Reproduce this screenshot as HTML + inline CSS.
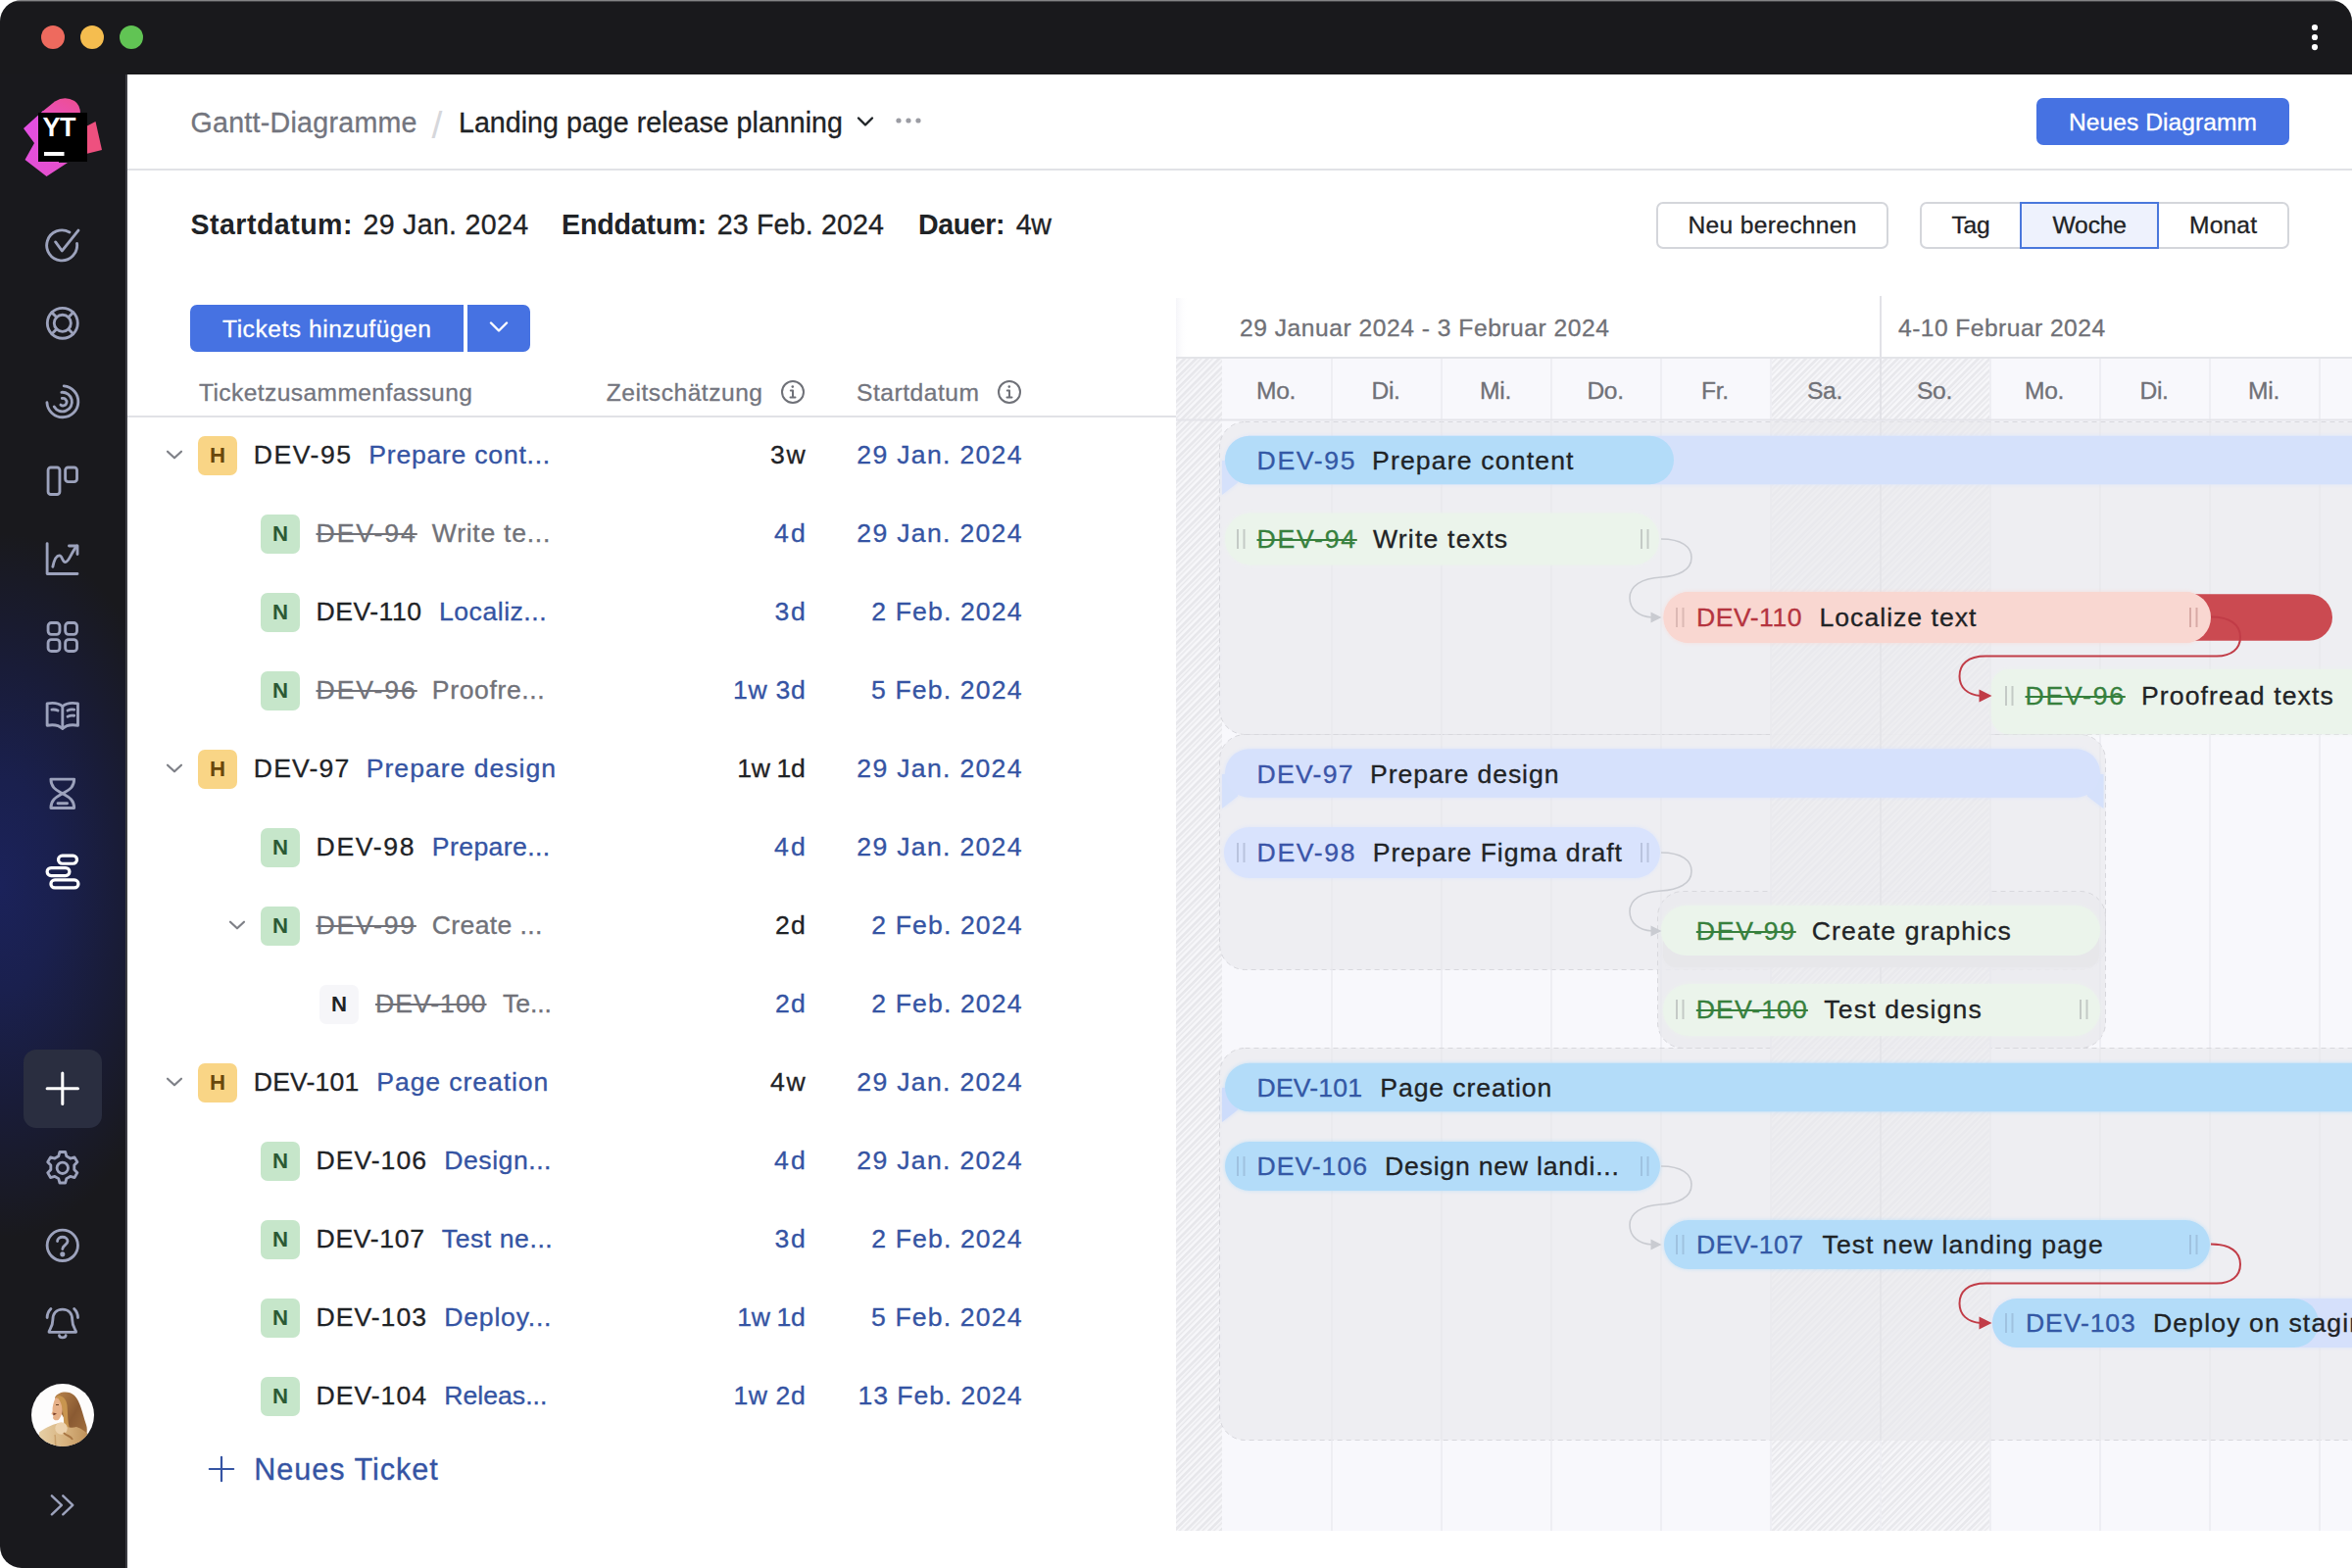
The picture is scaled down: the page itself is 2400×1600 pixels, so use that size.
<!DOCTYPE html>
<html lang="de"><head><meta charset="utf-8"><title>Gantt-Diagramme</title>
<style>
*{box-sizing:border-box;margin:0;padding:0}
html,body{width:2400px;height:1600px;overflow:hidden;background:#fff}
body{font-family:"Liberation Sans",sans-serif;position:relative;color:#1f2326}
.t{position:absolute;white-space:pre;display:block}
.abs{position:absolute}
#win{position:absolute;left:0;top:0;width:2400px;height:1600px;border-radius:22px 22px 0 22px;overflow:hidden;background:#fff}
#titlebar{position:absolute;left:0;top:0;width:2400px;height:76px;background:linear-gradient(to bottom,rgba(255,255,255,.62) 0,rgba(255,255,255,.25) 1.2px,rgba(255,255,255,0) 2.2px) #19191c}
.tl{position:absolute;top:26px;width:24px;height:24px;border-radius:50%}
#sidebar{position:absolute;left:0;top:76px;width:130px;height:1524px;background:radial-gradient(ellipse 195px 360px at 0px 828px,#1b225a 0%,#1a204e 30%,#191c38 62%,#19191d 100%);border-right:2px solid #3d3e44}
.ico{position:absolute;left:41.2px;width:45.6px;height:45.6px;margin-top:1.2px;fill:none;stroke:#9ca2bc;stroke-width:3;stroke-linecap:round;stroke-linejoin:round}
#main{position:absolute;left:130px;top:76px;width:2270px;height:1524px;background:#fff}
.hr{position:absolute;height:2px;background:#e1e2e6}
.btn{position:absolute;border-radius:7px;background:#4672e2}
.obtn{position:absolute;border:2px solid #d4d6db;border-radius:7px;background:#fff}
.badge{position:absolute;width:40px;height:40px;border-radius:7px}
.bH{background:#f9d586}
.bN{background:#c6e6ca}
.bG{background:#f6f6f9}
</style></head>
<body>
<div id="win">
<div id="titlebar"><i class="tl" style="left:42px;background:#ee6a5e"></i><i class="tl" style="left:82px;background:#f5bd4f"></i><i class="tl" style="left:122px;background:#61c454"></i><svg class="abs" style="left:2352px;top:20px" width="20" height="36"><circle cx="10" cy="8" r="3.1" fill="#fff"/><circle cx="10" cy="18" r="3.1" fill="#fff"/><circle cx="10" cy="28.1" r="3.1" fill="#fff"/></svg></div>
<nav id="sidebar"><svg class="abs" style="left:20px;top:20px" width="90" height="90" viewBox="20 96 90 90">
<defs><linearGradient id="lg1" x1="0" y1="0" x2="1" y2="1"><stop offset="0" stop-color="#e24fe6"/><stop offset="1" stop-color="#e550c8"/></linearGradient>
<linearGradient id="lg2" x1="0" y1="1" x2="1" y2="0"><stop offset="0" stop-color="#e84fc0"/><stop offset="1" stop-color="#ee4f8f"/></linearGradient></defs>
<path d="M24 131 L44 113 L60 120 L60 166 L69 166 L47.5 180 L25.5 163 L35 146 Z" fill="url(#lg1)"/>
<path d="M43 114 L56 103.5 Q66 97.5 76 103 Q82 107 82 116 L82 120 L44 120 Z" fill="url(#lg2)"/>
<path d="M86 130 L97.5 124 L104 153 L86 157.5 Z" fill="#ee507f"/>
<rect x="39" y="115" width="50" height="50" fill="#000"/>
<rect x="45" y="155" width="20.5" height="4" fill="#fff"/>
</svg><span class="t" style="left:43.5px;top:41.1px;font-size:27px;line-height:27px;color:#fff;font-weight:700;letter-spacing:-0.52px;">YT</span><svg class="ico" style="top:150px;" viewBox="0 0 48 48"><path d="M39.5 22.5 A16.3 16.3 0 1 1 31.5 10.5"/><path d="M16.5 21 L23.5 30.5 L41 8.5"/></svg><svg class="ico" style="top:230px;" viewBox="0 0 48 48"><circle cx="24" cy="24" r="16.3"/><circle cx="24" cy="24" r="9"/><path d="M12.5 12.5l5.2 5.2M35.5 12.5l-5.2 5.2M12.5 35.5l5.2-5.2M35.5 35.5l-5.2-5.2"/></svg><svg class="ico" style="top:310px;" viewBox="0 0 48 48"><path d="M25.5 7.3 A16.8 16.8 0 1 1 7.3 25"/><path d="M23 14 A10.3 10.3 0 1 1 15 29.5"/><path d="M23.5 20.5 A4 4 0 1 1 22 27.5"/></svg><svg class="ico" style="top:390px;" viewBox="0 0 48 48"><rect x="8.5" y="10.5" width="12.5" height="29" rx="3"/><rect x="27" y="10.5" width="12.5" height="15.5" rx="3"/></svg><svg class="ico" style="top:470px;" viewBox="0 0 48 48"><path d="M7.5 8 V40.5 H40"/><path d="M13.5 33 C15 26 17 21 20.5 21 C24 21 23.5 28 27 28 C31 28 33 18 39.5 10.5"/><path d="M31 10.5 H40 V19.5"/></svg><svg class="ico" style="top:550px;" viewBox="0 0 48 48"><rect x="8.5" y="9" width="12.5" height="12.5" rx="3.5"/><rect x="27" y="9" width="12.5" height="12.5" rx="3.5"/><rect x="8.5" y="27" width="12.5" height="12.5" rx="3.5"/><rect x="27" y="27" width="12.5" height="12.5" rx="3.5"/></svg><svg class="ico" style="top:630px;" viewBox="0 0 48 48"><path d="M24 14.5 C20 11 13 10.5 7.5 11.5 V35 C13 34 20 34.5 24 38.5 C28 34.5 35 34 40.5 35 V11.5 C35 10.5 28 11 24 14.5 Z"/><path d="M24 14.5 V38"/><path d="M12.5 18 c2.5 -.4 4.5 0 6.5 1M29.5 19 c2-1 4.5-1.5 7-1M29.5 25.5 c2-1 4.5-1.5 7-1"/></svg><svg class="ico" style="top:710px;" viewBox="0 0 48 48"><path d="M11.5 8.5 H36.5 C36.5 18 30 20.5 24 24 C18 27.5 11.5 30 11.5 39.5 H36.5 C36.5 30 30 27.5 24 24 C18 20.5 11.5 18 11.5 8.5 Z"/><path d="M19 34.5 H29"/></svg><svg class="ico" style="top:790px;stroke:#fff;stroke-width:3.4" viewBox="0 0 48 48"><rect x="19.5" y="6.5" width="20" height="8.5" rx="4.25"/><rect x="7.5" y="19.5" width="24" height="8.5" rx="4.25"/><rect x="11.5" y="32.5" width="29.5" height="8.5" rx="4.25"/></svg><div class="abs" style="left:24px;top:995px;width:80px;height:80px;border-radius:13px;background:#2a2e40"></div><svg class="ico" style="top:1011px;stroke:#fff;stroke-width:3.2" viewBox="0 0 48 48"><path d="M24 7.5 V40.5 M7.5 24 H40.5"/></svg><svg class="ico" style="top:1092px;" viewBox="0 0 48 48"><path d="M21 6.8 h6 l1.3 4.6 4 2.3 4.6-1.2 3 5.2 -3.3 3.4 v4.6 l3.3 3.4 -3 5.2 -4.6-1.2 -4 2.3 -1.3 4.6 h-6 l-1.3-4.6 -4-2.3 -4.6 1.2 -3-5.2 3.3-3.4 v-4.6 l-3.3-3.4 3-5.2 4.6 1.2 4-2.3 Z" stroke-linejoin="round"/><circle cx="24" cy="24" r="6"/></svg><svg class="ico" style="top:1171px;" viewBox="0 0 48 48"><circle cx="24" cy="24" r="16.5"/><path d="M18.5 19.5 C18.5 13.5 29.5 13.5 29.5 19.5 C29.5 23.5 24 23.5 24 28"/><circle cx="24" cy="33.5" r="1.2" fill="#9ca2bc"/></svg><svg class="ico" style="top:1251px;" viewBox="0 0 48 48"><path d="M24 8.5 C17 8.5 13.5 13.5 13.5 20 C13.5 28 9.5 30 9.5 33 H38.5 C38.5 30 34.5 28 34.5 20 C34.5 13.5 31 8.5 24 8.5 Z"/><path d="M20.5 36.5 C21 39.5 27 39.5 27.5 36.5"/><path d="M11.5 8 C9 10.5 7.5 14 7.5 17.5 M36.5 8 C39 10.5 40.5 14 40.5 17.5"/></svg><svg class="abs" style="left:32px;top:1336px" width="64" height="64" viewBox="0 0 64 64"><defs><clipPath id="av"><circle cx="32" cy="32" r="32"/></clipPath>
<linearGradient id="hair" x1="0" y1="0" x2="1" y2="1"><stop offset="0" stop-color="#b9854c"/><stop offset=".5" stop-color="#8a5a32"/><stop offset="1" stop-color="#a87643"/></linearGradient>
<linearGradient id="fur" x1="0" y1="0" x2="1" y2="0"><stop offset="0" stop-color="#e6cfa6"/><stop offset=".5" stop-color="#d7b27e"/><stop offset="1" stop-color="#b98a52"/></linearGradient></defs>
<g clip-path="url(#av)"><rect width="64" height="64" fill="#fdfcfc"/>
<path d="M24 14 C27 8 38 6.5 44 12 C50 18 52 30 56 42 C58 48 56 56 52 62 L30 64 C34 52 36 44 34 36 C30 30 26 22 24 14 Z" fill="url(#hair)"/>
<path d="M24.5 14.5 C22.5 19 21.2 24 21.6 28 L20.4 31 L22.6 32 L22 35 C23 37.4 25 37.8 27.5 37 C30.5 34 32.5 28 31.5 22 C30.5 17 27.5 13.5 24.5 14.5 Z" fill="#e6b088"/>
<path d="M22.3 29.5 L26 30.5 L22.4 32.5 Z" fill="#7a3f2a"/><path d="M25 21.5 h3" stroke="#6b4226" stroke-width="1.2"/>
<path d="M25 13 C30 10.5 35.5 14 36.5 22 C37.5 32 36.5 42 41 50 L34 52 C33 44 33.5 36 32 28 C31 20 28.5 15 25 13Z" fill="#c8954f"/>
<path d="M8 49.5 C16 44 23 40.5 30 40 C34 44 40 46 46 44 C52 46 57 50 62 55 L62 66 L8 66 Z" fill="url(#fur)"/>
<circle cx="30.5" cy="45.5" r="6.2" fill="#ecd2ad"/><path d="M33 50 C36 54 40 52 42 57" stroke="#a87643" stroke-width="2" fill="none"/><path d="M24 52 C25 56 24 60 25 64" stroke="#c9a06b" stroke-width="1.5" fill="none"/>
</g></svg><svg class="ico" style="top:1436px;stroke-width:2.6" viewBox="0 0 48 48"><path d="M12.5 14 L23 24 L12.5 34 M24.5 14 L35 24 L24.5 34"/></svg></nav>
<main id="main"></main>
<header><span class="t" style="left:194.5px;top:111.3px;font-size:28.6px;line-height:28.6px;color:#73757e;-webkit-text-stroke:0.32px;letter-spacing:0.27px;">Gantt-Diagramme</span><span class="t" style="left:440.5px;top:107.8px;font-size:39px;line-height:39px;color:#d6d7db;-webkit-text-stroke:0.32px;-webkit-text-stroke:0;">/</span><span class="t" style="left:468.0px;top:111.3px;font-size:28.6px;line-height:28.6px;color:#1f2326;-webkit-text-stroke:0.32px;letter-spacing:0.03px;">Landing page release planning</span><svg class="abs" style="left:871px;top:112px" width="24" height="24" fill="none" stroke="#1f2326" stroke-width="2.4" stroke-linecap="round" stroke-linejoin="round"><path d="M5 8.5 L12 15.5 L19 8.5"/></svg><svg class="abs" style="left:910px;top:116px" width="34" height="14"><circle cx="7" cy="7" r="2.6" fill="#9b9ca3"/><circle cx="17" cy="7" r="2.6" fill="#9b9ca3"/><circle cx="27" cy="7" r="2.6" fill="#9b9ca3"/></svg><div class="btn" style="left:2078px;top:100px;width:258px;height:48px"></div><span class="t" style="left:2111.0px;top:112.9px;font-size:24.6px;line-height:24.6px;color:#fff;-webkit-text-stroke:0.32px;letter-spacing:0.05px;">Neues Diagramm</span><div class="hr" style="left:130px;top:171.5px;width:2270px"></div></header>
<section><span class="t" style="left:194.5px;top:214.8px;font-size:28.6px;line-height:28.6px;color:#1f2326;font-weight:700;letter-spacing:0.45px;">Startdatum:</span><span class="t" style="left:370.5px;top:214.8px;font-size:28.6px;line-height:28.6px;color:#1f2326;-webkit-text-stroke:0.32px;letter-spacing:0.29px;">29 Jan. 2024</span><span class="t" style="left:573.0px;top:214.8px;font-size:28.6px;line-height:28.6px;color:#1f2326;font-weight:700;letter-spacing:-0.16px;">Enddatum:</span><span class="t" style="left:731.8px;top:214.8px;font-size:28.6px;line-height:28.6px;color:#1f2326;-webkit-text-stroke:0.32px;letter-spacing:0.15px;">23 Feb. 2024</span><span class="t" style="left:937.0px;top:214.8px;font-size:28.6px;line-height:28.6px;color:#1f2326;font-weight:700;letter-spacing:-0.42px;">Dauer:</span><span class="t" style="left:1036.8px;top:214.8px;font-size:28.6px;line-height:28.6px;color:#1f2326;-webkit-text-stroke:0.32px;letter-spacing:-0.36px;">4w</span><div class="obtn" style="left:1690px;top:206px;width:237px;height:48px"></div><span class="t" style="left:1722.5px;top:218.4px;font-size:24.6px;line-height:24.6px;color:#1f2326;-webkit-text-stroke:0.32px;letter-spacing:0.32px;">Neu berechnen</span><div class="obtn" style="left:1959px;top:206px;width:377px;height:48px"></div><div class="abs" style="left:2061px;top:206px;width:142px;height:48px;border:2px solid #4a78dc;background:#eef2fd"></div><span class="t" style="left:1991.5px;top:218.4px;font-size:24.6px;line-height:24.6px;color:#1f2326;-webkit-text-stroke:0.32px;letter-spacing:-0.18px;">Tag</span><span class="t" style="left:2094.5px;top:218.4px;font-size:24.6px;line-height:24.6px;color:#1f2326;-webkit-text-stroke:0.32px;letter-spacing:-0.15px;">Woche</span><span class="t" style="left:2234.0px;top:218.4px;font-size:24.6px;line-height:24.6px;color:#1f2326;-webkit-text-stroke:0.32px;letter-spacing:0.16px;">Monat</span></section>
<div class="btn" style="left:194px;top:311px;width:279px;height:48px;border-radius:7px 0 0 7px"></div><span class="t" style="left:227.0px;top:323.9px;font-size:24.6px;line-height:24.6px;color:#fff;-webkit-text-stroke:0.32px;letter-spacing:0.52px;">Tickets hinzufügen</span><div class="btn" style="left:477px;top:311px;width:64px;height:48px;border-radius:0 7px 7px 0"></div><svg class="abs" style="left:497px;top:322px" width="24" height="24" fill="none" stroke="#fff" stroke-width="2.4" stroke-linecap="round" stroke-linejoin="round"><path d="M4 7.5 L12 15.5 L20 7.5"/></svg><section id="table"><span class="t" style="left:203.0px;top:388.9px;font-size:24.6px;line-height:24.6px;color:#73757e;-webkit-text-stroke:0.32px;letter-spacing:0.39px;">Ticketzusammenfassung</span><span class="t" style="left:618.8px;top:388.9px;font-size:24.6px;line-height:24.6px;color:#73757e;-webkit-text-stroke:0.32px;letter-spacing:0.51px;">Zeitschätzung</span><span class="t" style="left:874.0px;top:388.9px;font-size:24.6px;line-height:24.6px;color:#73757e;-webkit-text-stroke:0.32px;letter-spacing:0.52px;">Startdatum</span><svg class="abs" style="left:795px;top:386px" width="28" height="28" fill="none" stroke="#6f7178" stroke-width="2"><circle cx="14" cy="14" r="11"/><path d="M14 12.5 V19.5 M11.8 12.5 H14 M11.5 19.5 H16.5" stroke-linecap="round"/><circle cx="13.8" cy="8.6" r="1.3" fill="#6f7178" stroke="none"/></svg><svg class="abs" style="left:1016px;top:386px" width="28" height="28" fill="none" stroke="#6f7178" stroke-width="2"><circle cx="14" cy="14" r="11"/><path d="M14 12.5 V19.5 M11.8 12.5 H14 M11.5 19.5 H16.5" stroke-linecap="round"/><circle cx="13.8" cy="8.6" r="1.3" fill="#6f7178" stroke="none"/></svg><div class="hr" style="left:130px;top:424px;width:1070px"></div><div class="row"><svg class="abs" style="left:166px;top:452px" width="24" height="24" fill="none" stroke="#7e8087" stroke-width="2.2" stroke-linecap="round" stroke-linejoin="round"><path d="M5 8.7 L12 15.3 L19 8.7"/></svg><i class="badge bH" style="left:202px;top:445px"></i><span class="t" style="left:214.0px;top:454.0px;font-size:22.2px;line-height:22.2px;color:#6a480c;font-weight:700;">H</span><span class="t" style="left:258.8px;top:451.0px;font-size:26.6px;line-height:26.6px;color:#1f2326;-webkit-text-stroke:0.32px;letter-spacing:1.51px;">DEV-95</span><span class="t" style="left:376.3px;top:451.0px;font-size:26.6px;line-height:26.6px;color:#3554a3;-webkit-text-stroke:0.32px;letter-spacing:0.75px;">Prepare cont...</span><span class="t" style="left:786.0px;top:451.0px;font-size:26.6px;line-height:26.6px;color:#1f2326;-webkit-text-stroke:0.32px;letter-spacing:1.80px;">3w</span><span class="t" style="left:874.3px;top:451.0px;font-size:26.6px;line-height:26.6px;color:#3554a3;-webkit-text-stroke:0.32px;letter-spacing:1.31px;">29 Jan. 2024</span></div>
<div class="row"><i class="badge bN" style="left:266px;top:525px"></i><span class="t" style="left:278.1px;top:534.0px;font-size:22.2px;line-height:22.2px;color:#2c5a35;font-weight:700;">N</span><span class="t" style="left:322.5px;top:531.0px;font-size:26.6px;line-height:26.6px;color:#717279;-webkit-text-stroke:0.32px;letter-spacing:1.93px;text-decoration:line-through;text-decoration-thickness:2px;">DEV-94</span><span class="t" style="left:440.8px;top:531.0px;font-size:26.6px;line-height:26.6px;color:#717279;-webkit-text-stroke:0.32px;letter-spacing:0.72px;">Write te...</span><span class="t" style="left:790.0px;top:531.0px;font-size:26.6px;line-height:26.6px;color:#3554a3;-webkit-text-stroke:0.32px;letter-spacing:2.21px;">4d</span><span class="t" style="left:874.3px;top:531.0px;font-size:26.6px;line-height:26.6px;color:#3554a3;-webkit-text-stroke:0.32px;letter-spacing:1.31px;">29 Jan. 2024</span></div>
<div class="row"><i class="badge bN" style="left:266px;top:605px"></i><span class="t" style="left:278.1px;top:614.0px;font-size:22.2px;line-height:22.2px;color:#2c5a35;font-weight:700;">N</span><span class="t" style="left:322.5px;top:611.0px;font-size:26.6px;line-height:26.6px;color:#1f2326;-webkit-text-stroke:0.32px;letter-spacing:0.51px;">DEV-110</span><span class="t" style="left:448.0px;top:611.0px;font-size:26.6px;line-height:26.6px;color:#3554a3;-webkit-text-stroke:0.32px;letter-spacing:0.51px;">Localiz...</span><span class="t" style="left:790.5px;top:611.0px;font-size:26.6px;line-height:26.6px;color:#3554a3;-webkit-text-stroke:0.32px;letter-spacing:1.71px;">3d</span><span class="t" style="left:889.3px;top:611.0px;font-size:26.6px;line-height:26.6px;color:#3554a3;-webkit-text-stroke:0.32px;letter-spacing:1.12px;">2 Feb. 2024</span></div>
<div class="row"><i class="badge bN" style="left:266px;top:685px"></i><span class="t" style="left:278.1px;top:694.0px;font-size:22.2px;line-height:22.2px;color:#2c5a35;font-weight:700;">N</span><span class="t" style="left:322.5px;top:691.0px;font-size:26.6px;line-height:26.6px;color:#717279;-webkit-text-stroke:0.32px;letter-spacing:1.93px;text-decoration:line-through;text-decoration-thickness:2px;">DEV-96</span><span class="t" style="left:440.8px;top:691.0px;font-size:26.6px;line-height:26.6px;color:#717279;-webkit-text-stroke:0.32px;letter-spacing:0.62px;">Proofre...</span><span class="t" style="left:748.0px;top:691.0px;font-size:26.6px;line-height:26.6px;color:#3554a3;-webkit-text-stroke:0.32px;letter-spacing:0.71px;">1w 3d</span><span class="t" style="left:889.0px;top:691.0px;font-size:26.6px;line-height:26.6px;color:#3554a3;-webkit-text-stroke:0.32px;letter-spacing:1.15px;">5 Feb. 2024</span></div>
<div class="row"><svg class="abs" style="left:166px;top:772px" width="24" height="24" fill="none" stroke="#7e8087" stroke-width="2.2" stroke-linecap="round" stroke-linejoin="round"><path d="M5 8.7 L12 15.3 L19 8.7"/></svg><i class="badge bH" style="left:202px;top:765px"></i><span class="t" style="left:214.0px;top:774.0px;font-size:22.2px;line-height:22.2px;color:#6a480c;font-weight:700;">H</span><span class="t" style="left:258.8px;top:771.0px;font-size:26.6px;line-height:26.6px;color:#1f2326;-webkit-text-stroke:0.32px;letter-spacing:1.17px;">DEV-97</span><span class="t" style="left:373.8px;top:771.0px;font-size:26.6px;line-height:26.6px;color:#3554a3;-webkit-text-stroke:0.32px;letter-spacing:0.99px;">Prepare design</span><span class="t" style="left:752.3px;top:771.0px;font-size:26.6px;line-height:26.6px;color:#1f2326;-webkit-text-stroke:0.32px;letter-spacing:-0.37px;">1w 1d</span><span class="t" style="left:874.3px;top:771.0px;font-size:26.6px;line-height:26.6px;color:#3554a3;-webkit-text-stroke:0.32px;letter-spacing:1.31px;">29 Jan. 2024</span></div>
<div class="row"><i class="badge bN" style="left:266px;top:845px"></i><span class="t" style="left:278.1px;top:854.0px;font-size:22.2px;line-height:22.2px;color:#2c5a35;font-weight:700;">N</span><span class="t" style="left:322.5px;top:851.0px;font-size:26.6px;line-height:26.6px;color:#1f2326;-webkit-text-stroke:0.32px;letter-spacing:1.67px;">DEV-98</span><span class="t" style="left:440.8px;top:851.0px;font-size:26.6px;line-height:26.6px;color:#3554a3;-webkit-text-stroke:0.32px;letter-spacing:0.41px;">Prepare...</span><span class="t" style="left:790.0px;top:851.0px;font-size:26.6px;line-height:26.6px;color:#3554a3;-webkit-text-stroke:0.32px;letter-spacing:2.21px;">4d</span><span class="t" style="left:874.3px;top:851.0px;font-size:26.6px;line-height:26.6px;color:#3554a3;-webkit-text-stroke:0.32px;letter-spacing:1.31px;">29 Jan. 2024</span></div>
<div class="row"><svg class="abs" style="left:230px;top:932px" width="24" height="24" fill="none" stroke="#7e8087" stroke-width="2.2" stroke-linecap="round" stroke-linejoin="round"><path d="M5 8.7 L12 15.3 L19 8.7"/></svg><i class="badge bN" style="left:266px;top:925px"></i><span class="t" style="left:278.1px;top:934.0px;font-size:22.2px;line-height:22.2px;color:#2c5a35;font-weight:700;">N</span><span class="t" style="left:322.5px;top:931.0px;font-size:26.6px;line-height:26.6px;color:#717279;-webkit-text-stroke:0.32px;letter-spacing:1.77px;text-decoration:line-through;text-decoration-thickness:2px;">DEV-99</span><span class="t" style="left:440.8px;top:931.0px;font-size:26.6px;line-height:26.6px;color:#717279;-webkit-text-stroke:0.32px;letter-spacing:0.35px;">Create ...</span><span class="t" style="left:791.0px;top:931.0px;font-size:26.6px;line-height:26.6px;color:#1f2326;-webkit-text-stroke:0.32px;letter-spacing:1.21px;">2d</span><span class="t" style="left:889.3px;top:931.0px;font-size:26.6px;line-height:26.6px;color:#3554a3;-webkit-text-stroke:0.32px;letter-spacing:1.12px;">2 Feb. 2024</span></div>
<div class="row"><i class="badge bG" style="left:326px;top:1005px"></i><span class="t" style="left:338.1px;top:1014.0px;font-size:22.2px;line-height:22.2px;color:#1f2326;font-weight:700;">N</span><span class="t" style="left:383.0px;top:1011.0px;font-size:26.6px;line-height:26.6px;color:#717279;-webkit-text-stroke:0.32px;letter-spacing:1.01px;text-decoration:line-through;text-decoration-thickness:2px;">DEV-100</span><span class="t" style="left:513.0px;top:1011.0px;font-size:26.6px;line-height:26.6px;color:#717279;-webkit-text-stroke:0.32px;letter-spacing:-0.07px;">Te...</span><span class="t" style="left:791.0px;top:1011.0px;font-size:26.6px;line-height:26.6px;color:#3554a3;-webkit-text-stroke:0.32px;letter-spacing:1.21px;">2d</span><span class="t" style="left:889.3px;top:1011.0px;font-size:26.6px;line-height:26.6px;color:#3554a3;-webkit-text-stroke:0.32px;letter-spacing:1.12px;">2 Feb. 2024</span></div>
<div class="row"><svg class="abs" style="left:166px;top:1092px" width="24" height="24" fill="none" stroke="#7e8087" stroke-width="2.2" stroke-linecap="round" stroke-linejoin="round"><path d="M5 8.7 L12 15.3 L19 8.7"/></svg><i class="badge bH" style="left:202px;top:1085px"></i><span class="t" style="left:214.0px;top:1094.0px;font-size:22.2px;line-height:22.2px;color:#6a480c;font-weight:700;">H</span><span class="t" style="left:258.8px;top:1091.0px;font-size:26.6px;line-height:26.6px;color:#1f2326;-webkit-text-stroke:0.32px;letter-spacing:0.17px;">DEV-101</span><span class="t" style="left:384.3px;top:1091.0px;font-size:26.6px;line-height:26.6px;color:#3554a3;-webkit-text-stroke:0.32px;letter-spacing:0.91px;">Page creation</span><span class="t" style="left:786.0px;top:1091.0px;font-size:26.6px;line-height:26.6px;color:#1f2326;-webkit-text-stroke:0.32px;letter-spacing:1.80px;">4w</span><span class="t" style="left:874.3px;top:1091.0px;font-size:26.6px;line-height:26.6px;color:#3554a3;-webkit-text-stroke:0.32px;letter-spacing:1.31px;">29 Jan. 2024</span></div>
<div class="row"><i class="badge bN" style="left:266px;top:1165px"></i><span class="t" style="left:278.1px;top:1174.0px;font-size:22.2px;line-height:22.2px;color:#2c5a35;font-weight:700;">N</span><span class="t" style="left:322.5px;top:1171.0px;font-size:26.6px;line-height:26.6px;color:#1f2326;-webkit-text-stroke:0.32px;letter-spacing:1.01px;">DEV-106</span><span class="t" style="left:453.3px;top:1171.0px;font-size:26.6px;line-height:26.6px;color:#3554a3;-webkit-text-stroke:0.32px;letter-spacing:0.53px;">Design...</span><span class="t" style="left:790.0px;top:1171.0px;font-size:26.6px;line-height:26.6px;color:#3554a3;-webkit-text-stroke:0.32px;letter-spacing:2.21px;">4d</span><span class="t" style="left:874.3px;top:1171.0px;font-size:26.6px;line-height:26.6px;color:#3554a3;-webkit-text-stroke:0.32px;letter-spacing:1.31px;">29 Jan. 2024</span></div>
<div class="row"><i class="badge bN" style="left:266px;top:1245px"></i><span class="t" style="left:278.1px;top:1254.0px;font-size:22.2px;line-height:22.2px;color:#2c5a35;font-weight:700;">N</span><span class="t" style="left:322.5px;top:1251.0px;font-size:26.6px;line-height:26.6px;color:#1f2326;-webkit-text-stroke:0.32px;letter-spacing:0.67px;">DEV-107</span><span class="t" style="left:450.8px;top:1251.0px;font-size:26.6px;line-height:26.6px;color:#3554a3;-webkit-text-stroke:0.32px;letter-spacing:0.56px;">Test ne...</span><span class="t" style="left:790.5px;top:1251.0px;font-size:26.6px;line-height:26.6px;color:#3554a3;-webkit-text-stroke:0.32px;letter-spacing:1.71px;">3d</span><span class="t" style="left:889.3px;top:1251.0px;font-size:26.6px;line-height:26.6px;color:#3554a3;-webkit-text-stroke:0.32px;letter-spacing:1.12px;">2 Feb. 2024</span></div>
<div class="row"><i class="badge bN" style="left:266px;top:1325px"></i><span class="t" style="left:278.1px;top:1334.0px;font-size:22.2px;line-height:22.2px;color:#2c5a35;font-weight:700;">N</span><span class="t" style="left:322.5px;top:1331.0px;font-size:26.6px;line-height:26.6px;color:#1f2326;-webkit-text-stroke:0.32px;letter-spacing:1.01px;">DEV-103</span><span class="t" style="left:453.3px;top:1331.0px;font-size:26.6px;line-height:26.6px;color:#3554a3;-webkit-text-stroke:0.32px;letter-spacing:0.78px;">Deploy...</span><span class="t" style="left:752.3px;top:1331.0px;font-size:26.6px;line-height:26.6px;color:#3554a3;-webkit-text-stroke:0.32px;letter-spacing:-0.37px;">1w 1d</span><span class="t" style="left:889.0px;top:1331.0px;font-size:26.6px;line-height:26.6px;color:#3554a3;-webkit-text-stroke:0.32px;letter-spacing:1.15px;">5 Feb. 2024</span></div>
<div class="row"><i class="badge bN" style="left:266px;top:1405px"></i><span class="t" style="left:278.1px;top:1414.0px;font-size:22.2px;line-height:22.2px;color:#2c5a35;font-weight:700;">N</span><span class="t" style="left:322.5px;top:1411.0px;font-size:26.6px;line-height:26.6px;color:#1f2326;-webkit-text-stroke:0.32px;letter-spacing:1.01px;">DEV-104</span><span class="t" style="left:453.3px;top:1411.0px;font-size:26.6px;line-height:26.6px;color:#3554a3;-webkit-text-stroke:0.32px;letter-spacing:0.01px;">Releas...</span><span class="t" style="left:748.5px;top:1411.0px;font-size:26.6px;line-height:26.6px;color:#3554a3;-webkit-text-stroke:0.32px;letter-spacing:0.58px;">1w 2d</span><span class="t" style="left:875.5px;top:1411.0px;font-size:26.6px;line-height:26.6px;color:#3554a3;-webkit-text-stroke:0.32px;letter-spacing:0.93px;">13 Feb. 2024</span></div>
<svg class="abs" style="left:211px;top:1484px" width="30" height="30" fill="none" stroke="#3554a3" stroke-width="2.2" stroke-linecap="round"><path d="M15 2.8 V27.2 M2.8 15 H27.2"/></svg><span class="t" style="left:259.3px;top:1483.9px;font-size:30.6px;line-height:30.6px;color:#3554a3;-webkit-text-stroke:0.32px;letter-spacing:0.97px;">Neues Ticket</span></section>
<section id="gantt"><svg class="abs" style="left:1200px;top:290px" width="1200" height="1272" viewBox="1200 290 1200 1272"><defs>
<pattern id="hz" width="8.3" height="8.3" patternUnits="userSpaceOnUse" patternTransform="rotate(-45)"><rect width="8.3" height="8.3" fill="#f7f7fa"/><rect width="8.3" height="2.7" fill="#e7e7eb"/><rect y="4.3" width="8.3" height="1.5" fill="#e7e7eb"/></pattern>
<pattern id="hz2" width="8.3" height="8.3" patternUnits="userSpaceOnUse" patternTransform="rotate(-45)"><rect width="8.3" height="8.3" fill="#f7f7fa"/><rect width="8.3" height="2.7" fill="#e8e8ec"/><rect y="4.3" width="8.3" height="1.5" fill="#e8e8ec"/></pattern>
<pattern id="hz3" width="8.3" height="8.3" patternUnits="userSpaceOnUse" patternTransform="rotate(-45)"><rect width="8.3" height="8.3" fill="#eeeef1"/><rect width="8.3" height="2.7" fill="#e9e9ed"/><rect y="4.3" width="8.3" height="1.5" fill="#e9e9ed"/></pattern>
<linearGradient id="shl" x1="0" x2="1"><stop offset="0" stop-color="#e9e9f2" stop-opacity=".9"/><stop offset="1" stop-color="#fff" stop-opacity="0"/></linearGradient>
<clipPath id="gclip"><rect x="1200" y="430" width="1200" height="1132"/></clipPath>
<clipPath id="cclip"><rect x="1244" y="430.5" width="1300" height="319.5" rx="26"/><rect x="1244" y="750" width="905" height="240" rx="26"/><rect x="1691" y="910" width="458" height="160" rx="26"/><rect x="1244" y="1070" width="1300" height="400" rx="26"/></clipPath>
<filter id="glow" x="-5%" y="-30%" width="110%" height="160%"><feGaussianBlur stdDeviation="2.2" result="b"/><feComponentTransfer in="b" result="b2"><feFuncA type="linear" slope="0.75"/></feComponentTransfer><feMerge><feMergeNode in="b2"/><feMergeNode in="SourceGraphic"/></feMerge></filter>
</defs><rect x="1200" y="304" width="12" height="60" fill="url(#shl)" opacity=".5"/><rect x="1200" y="365" width="1200" height="1197" fill="#f8f8fc"/><rect x="1200" y="365" width="47" height="1197" fill="url(#hz)"/><rect x="1807" y="365" width="224" height="1197" fill="url(#hz2)"/><rect x="1358" y="366" width="2" height="1196" fill="#eeeef3"/><rect x="1470" y="366" width="2" height="1196" fill="#eeeef3"/><rect x="1582" y="366" width="2" height="1196" fill="#eeeef3"/><rect x="1694" y="366" width="2" height="1196" fill="#eeeef3"/><rect x="1806" y="366" width="2" height="1196" fill="#eeeef3"/><rect x="1918" y="366" width="2" height="1196" fill="#eeeef3"/><rect x="2030" y="366" width="2" height="1196" fill="#eeeef3"/><rect x="2142" y="366" width="2" height="1196" fill="#eeeef3"/><rect x="2254" y="366" width="2" height="1196" fill="#eeeef3"/><rect x="2366" y="366" width="2" height="1196" fill="#eeeef3"/><rect x="1918" y="302" width="2" height="126" fill="#e2e2e7"/><rect x="1200" y="364" width="1200" height="2" fill="#e3e4e8"/><rect x="1200" y="427.5" width="1200" height="2" fill="#e4e4e9"/><g clip-path="url(#gclip)"><rect x="1244.5" y="430.5" width="1300" height="319" rx="26" fill="#ededf1" fill-opacity="0.92" stroke="#d8d8dd" stroke-width="1" stroke-dasharray="5 4"/><rect x="1244.5" y="749.5" width="904" height="240" rx="26" fill="#ededf1" fill-opacity="0.92" stroke="#d8d8dd" stroke-width="1" stroke-dasharray="5 4"/><rect x="1244.5" y="1069.5" width="1300" height="400" rx="26" fill="#ededf1" fill-opacity="0.92" stroke="#d8d8dd" stroke-width="1" stroke-dasharray="5 4"/><rect x="1691.5" y="909.5" width="457" height="160" rx="26" fill="#eaeaee" fill-opacity="0.9" stroke="#d8d8dd" stroke-width="1" stroke-dasharray="5 4"/><g clip-path="url(#cclip)"><rect x="1808" y="430" width="222" height="1040" fill="url(#hz3)" opacity=".9"/><rect x="1918" y="430" width="2" height="1040" fill="#e5e5e9"/><rect x="1358" y="430" width="2" height="1040" fill="#e9e9ed" opacity=".8"/><rect x="1470" y="430" width="2" height="1040" fill="#e9e9ed" opacity=".8"/><rect x="1582" y="430" width="2" height="1040" fill="#e9e9ed" opacity=".8"/><rect x="1694" y="430" width="2" height="1040" fill="#e9e9ed" opacity=".8"/><rect x="1806" y="430" width="2" height="1040" fill="#e9e9ed" opacity=".8"/><rect x="2030" y="430" width="2" height="1040" fill="#e9e9ed" opacity=".8"/><rect x="2142" y="430" width="2" height="1040" fill="#e9e9ed" opacity=".8"/><rect x="2254" y="430" width="2" height="1040" fill="#e9e9ed" opacity=".8"/><rect x="2366" y="430" width="2" height="1040" fill="#e9e9ed" opacity=".8"/></g><g filter="url(#glow)"><path d="M1247 470 V505 L1263 492.5 V470 Z" fill="#d5e1fb"/><rect x="1250" y="444.75" width="1250" height="49.5" rx="24.75" fill="#d5e1fb" /><rect x="1250" y="523.5" width="443" height="53" rx="26.5" fill="#ebf4eb" /><rect x="1697.5" y="604.0" width="558.5" height="52" rx="26.0" fill="#f9d7d1" /><rect x="2032" y="683" width="500" height="66" rx="18" fill="#ebf4eb"/><path d="M1247 790 V825 L1263 812.5 V790 Z" fill="#d5e1fb"/><path d="M2146.5 790 V825 L2130 812.5 V790 Z" fill="#d5e1fb"/><rect x="1250" y="764.25" width="893" height="49.5" rx="24.75" fill="#d6e1fc" /><rect x="1249" y="844.0" width="445" height="52" rx="26.0" fill="#d9e3fd" /><rect x="1697" y="940" width="445" height="47" rx="13" fill="#e7e7ea"/><rect x="1695" y="924.0" width="448" height="51" rx="25.5" fill="#ebf4eb" /><rect x="1697" y="1004.0" width="446" height="53" rx="26.5" fill="#ebf4eb" /><path d="M1247 1110 V1145 L1263 1132.5 V1110 Z" fill="#cddcfb"/><rect x="1250" y="1084.75" width="1250" height="49.5" rx="24.75" fill="#b3dcf9" /><rect x="1250" y="1165.0" width="444" height="50" rx="25.0" fill="#b3dcf9" /><rect x="1698" y="1245.0" width="557" height="50" rx="25.0" fill="#b3dcf9" /><rect x="2033" y="1325.0" width="467" height="50" rx="25.0" fill="#d5e0fb" /></g><g><rect x="1250" y="444.75" width="458" height="49.5" rx="24.75" fill="#b3dcf9" /><rect x="2033" y="1325.0" width="333" height="50" rx="25.0" fill="#b3dcf9" /></g><rect x="2180" y="606.25" width="200" height="47.5" rx="23.75" fill="#cb4a51" /><rect x="1697.5" y="604.0" width="558.5" height="52" rx="26.0" fill="#f9d7d1" /><path d="M1263 540v20M1269.5 540v20" stroke="#c4cac6" stroke-width="2" fill="none"/><path d="M1675 540v20M1681.5 540v20" stroke="#c4cac6" stroke-width="2" fill="none"/><path d="M1711 620v20M1717.5 620v20" stroke="#dcb9b4" stroke-width="2" fill="none"/><path d="M2235 620v20M2241.5 620v20" stroke="#d8aaa6" stroke-width="2" fill="none"/><path d="M2047 700v20M2053.5 700v20" stroke="#c4cac6" stroke-width="2" fill="none"/><path d="M1263 860v20M1269.5 860v20" stroke="#b9c3de" stroke-width="2" fill="none"/><path d="M1675 860v20M1681.5 860v20" stroke="#b9c3de" stroke-width="2" fill="none"/><path d="M1711 1020v20M1717.5 1020v20" stroke="#c4cac6" stroke-width="2" fill="none"/><path d="M2123 1020v20M2129.5 1020v20" stroke="#c4cac6" stroke-width="2" fill="none"/><path d="M1263 1180v20M1269.5 1180v20" stroke="#9fc2e0" stroke-width="2" fill="none"/><path d="M1675 1180v20M1681.5 1180v20" stroke="#9fc2e0" stroke-width="2" fill="none"/><path d="M1711 1260v20M1717.5 1260v20" stroke="#9fc2e0" stroke-width="2" fill="none"/><path d="M2235 1260v20M2241.5 1260v20" stroke="#9fc2e0" stroke-width="2" fill="none"/><path d="M2047 1340v20M2053.5 1340v20" stroke="#9fc2e0" stroke-width="2" fill="none"/><path d="M1695 550 C1716 550 1726 558 1726 569 C1726 582 1712 588 1695 589 C1675 590 1663 598 1663 610 C1663 622 1672 629 1686 630" fill="none" stroke="#c9cbd1" stroke-width="1.6"/><path d="M1684.5 624.5 L1695.5 630 L1684.5 635.5 Z" fill="#c9cbd1"/><path d="M1695 870 C1716 870 1726 878 1726 889 C1726 902 1712 908 1695 909 C1675 910 1663 918 1663 930 C1663 942 1672 949 1686 950" fill="none" stroke="#c9cbd1" stroke-width="1.6"/><path d="M1684.5 944.5 L1695.5 950 L1684.5 955.5 Z" fill="#c9cbd1"/><path d="M1695 1190 C1716 1190 1726 1198 1726 1209 C1726 1222 1712 1228 1695 1229 C1675 1230 1663 1238 1663 1250 C1663 1262 1672 1269 1686 1270" fill="none" stroke="#c9cbd1" stroke-width="1.6"/><path d="M1684.5 1264.5 L1695.5 1270 L1684.5 1275.5 Z" fill="#c9cbd1"/><path d="M2256 629.5 C2276 629.5 2286 637.5 2286 650.0 C2286 662.0 2277 669.5 2262 669.5 L2026 669.5 C2008 669.5 1999.5 678.0 1999.5 690.0 C1999.5 702.0 2008 709.0 2021 710.0" fill="none" stroke="#c13c47" stroke-width="2"/><path d="M2019.5 703.5 L2032.5 710.0 L2019.5 716.5 Z" fill="#c13c47"/><path d="M2256 1269.5 C2276 1269.5 2286 1277.5 2286 1290.0 C2286 1302.0 2277 1309.5 2262 1309.5 L2026 1309.5 C2008 1309.5 1999.5 1318.0 1999.5 1330.0 C1999.5 1342.0 2008 1349.0 2021 1350.0" fill="none" stroke="#c13c47" stroke-width="2"/><path d="M2019.5 1343.5 L2032.5 1350.0 L2019.5 1356.5 Z" fill="#c13c47"/></g></svg><span class="t" style="left:1265.0px;top:322.5px;font-size:24.6px;line-height:24.6px;color:#707177;-webkit-text-stroke:0.32px;letter-spacing:0.53px;">29 Januar 2024 - 3 Februar 2024</span><span class="t" style="left:1937.0px;top:322.5px;font-size:24.6px;line-height:24.6px;color:#707177;-webkit-text-stroke:0.32px;letter-spacing:0.46px;">4-10 Februar 2024</span><span class="t" style="left:1282.0px;top:386.7px;font-size:24.6px;line-height:24.6px;color:#707177;-webkit-text-stroke:0.32px;letter-spacing:-0.3px;">Mo.</span><span class="t" style="left:1399.5px;top:386.7px;font-size:24.6px;line-height:24.6px;color:#707177;-webkit-text-stroke:0.32px;letter-spacing:-0.3px;">Di.</span><span class="t" style="left:1510.1px;top:386.7px;font-size:24.6px;line-height:24.6px;color:#707177;-webkit-text-stroke:0.32px;letter-spacing:-0.3px;">Mi.</span><span class="t" style="left:1619.4px;top:386.7px;font-size:24.6px;line-height:24.6px;color:#707177;-webkit-text-stroke:0.32px;letter-spacing:-0.3px;">Do.</span><span class="t" style="left:1736.1px;top:386.7px;font-size:24.6px;line-height:24.6px;color:#707177;-webkit-text-stroke:0.32px;letter-spacing:-0.3px;">Fr.</span><span class="t" style="left:1844.0px;top:386.7px;font-size:24.6px;line-height:24.6px;color:#707177;-webkit-text-stroke:0.32px;letter-spacing:-0.3px;">Sa.</span><span class="t" style="left:1956.0px;top:386.7px;font-size:24.6px;line-height:24.6px;color:#707177;-webkit-text-stroke:0.32px;letter-spacing:-0.3px;">So.</span><span class="t" style="left:2066.0px;top:386.7px;font-size:24.6px;line-height:24.6px;color:#707177;-webkit-text-stroke:0.32px;letter-spacing:-0.3px;">Mo.</span><span class="t" style="left:2183.5px;top:386.7px;font-size:24.6px;line-height:24.6px;color:#707177;-webkit-text-stroke:0.32px;letter-spacing:-0.3px;">Di.</span><span class="t" style="left:2294.1px;top:386.7px;font-size:24.6px;line-height:24.6px;color:#707177;-webkit-text-stroke:0.32px;letter-spacing:-0.3px;">Mi.</span><span class="t" style="left:1282.5px;top:457.0px;font-size:26.6px;line-height:26.6px;color:#3458a5;-webkit-text-stroke:0.32px;letter-spacing:1.67px;">DEV-95</span><span class="t" style="left:1400.0px;top:457.0px;font-size:26.6px;line-height:26.6px;color:#1f2326;-webkit-text-stroke:0.32px;letter-spacing:1.16px;">Prepare content</span><span class="t" style="left:1282.5px;top:537.0px;font-size:26.6px;line-height:26.6px;color:#37803d;-webkit-text-stroke:0.32px;letter-spacing:1.77px;text-decoration:line-through;text-decoration-thickness:2px;">DEV-94</span><span class="t" style="left:1401.0px;top:537.0px;font-size:26.6px;line-height:26.6px;color:#1f2326;-webkit-text-stroke:0.32px;letter-spacing:1.19px;">Write texts</span><span class="t" style="left:1731.0px;top:617.0px;font-size:26.6px;line-height:26.6px;color:#b5343f;-webkit-text-stroke:0.32px;letter-spacing:0.51px;">DEV-110</span><span class="t" style="left:1856.5px;top:617.0px;font-size:26.6px;line-height:26.6px;color:#1f2326;-webkit-text-stroke:0.32px;letter-spacing:1.01px;">Localize text</span><span class="t" style="left:2066.5px;top:697.0px;font-size:26.6px;line-height:26.6px;color:#37803d;-webkit-text-stroke:0.32px;letter-spacing:1.77px;text-decoration:line-through;text-decoration-thickness:2px;">DEV-96</span><span class="t" style="left:2185.0px;top:697.0px;font-size:26.6px;line-height:26.6px;color:#1f2326;-webkit-text-stroke:0.32px;letter-spacing:1.10px;">Proofread texts</span><span class="t" style="left:1282.5px;top:777.0px;font-size:26.6px;line-height:26.6px;color:#3b55a8;-webkit-text-stroke:0.32px;letter-spacing:1.27px;">DEV-97</span><span class="t" style="left:1398.0px;top:777.0px;font-size:26.6px;line-height:26.6px;color:#1f2326;-webkit-text-stroke:0.32px;letter-spacing:0.93px;">Prepare design</span><span class="t" style="left:1282.5px;top:857.0px;font-size:26.6px;line-height:26.6px;color:#3b55a8;-webkit-text-stroke:0.32px;letter-spacing:1.67px;">DEV-98</span><span class="t" style="left:1400.8px;top:857.0px;font-size:26.6px;line-height:26.6px;color:#1f2326;-webkit-text-stroke:0.32px;letter-spacing:0.98px;">Prepare Figma draft</span><span class="t" style="left:1730.8px;top:937.0px;font-size:26.6px;line-height:26.6px;color:#37803d;-webkit-text-stroke:0.32px;letter-spacing:1.71px;text-decoration:line-through;text-decoration-thickness:2px;">DEV-99</span><span class="t" style="left:1848.8px;top:937.0px;font-size:26.6px;line-height:26.6px;color:#1f2326;-webkit-text-stroke:0.32px;letter-spacing:1.09px;">Create graphics</span><span class="t" style="left:1730.8px;top:1017.0px;font-size:26.6px;line-height:26.6px;color:#37803d;-webkit-text-stroke:0.32px;letter-spacing:1.09px;text-decoration:line-through;text-decoration-thickness:2px;">DEV-100</span><span class="t" style="left:1861.3px;top:1017.0px;font-size:26.6px;line-height:26.6px;color:#1f2326;-webkit-text-stroke:0.32px;letter-spacing:1.15px;">Test designs</span><span class="t" style="left:1282.5px;top:1097.0px;font-size:26.6px;line-height:26.6px;color:#3458a5;-webkit-text-stroke:0.32px;letter-spacing:0.17px;">DEV-101</span><span class="t" style="left:1408.3px;top:1097.0px;font-size:26.6px;line-height:26.6px;color:#1f2326;-webkit-text-stroke:0.32px;letter-spacing:0.91px;">Page creation</span><span class="t" style="left:1282.5px;top:1177.0px;font-size:26.6px;line-height:26.6px;color:#3458a5;-webkit-text-stroke:0.32px;letter-spacing:1.01px;">DEV-106</span><span class="t" style="left:1413.0px;top:1177.0px;font-size:26.6px;line-height:26.6px;color:#1f2326;-webkit-text-stroke:0.32px;letter-spacing:0.79px;">Design new landi...</span><span class="t" style="left:1731.0px;top:1257.0px;font-size:26.6px;line-height:26.6px;color:#3458a5;-webkit-text-stroke:0.32px;letter-spacing:0.42px;">DEV-107</span><span class="t" style="left:1859.5px;top:1257.0px;font-size:26.6px;line-height:26.6px;color:#1f2326;-webkit-text-stroke:0.32px;letter-spacing:1.08px;">Test new landing page</span><span class="t" style="left:2067.0px;top:1337.0px;font-size:26.6px;line-height:26.6px;color:#3458a5;-webkit-text-stroke:0.32px;letter-spacing:0.89px;">DEV-103</span><span class="t" style="left:2197.0px;top:1337.0px;font-size:26.6px;line-height:26.6px;color:#1f2326;-webkit-text-stroke:0.32px;letter-spacing:1.13px;">Deploy on staging</span></section>
</div>
</body></html>
